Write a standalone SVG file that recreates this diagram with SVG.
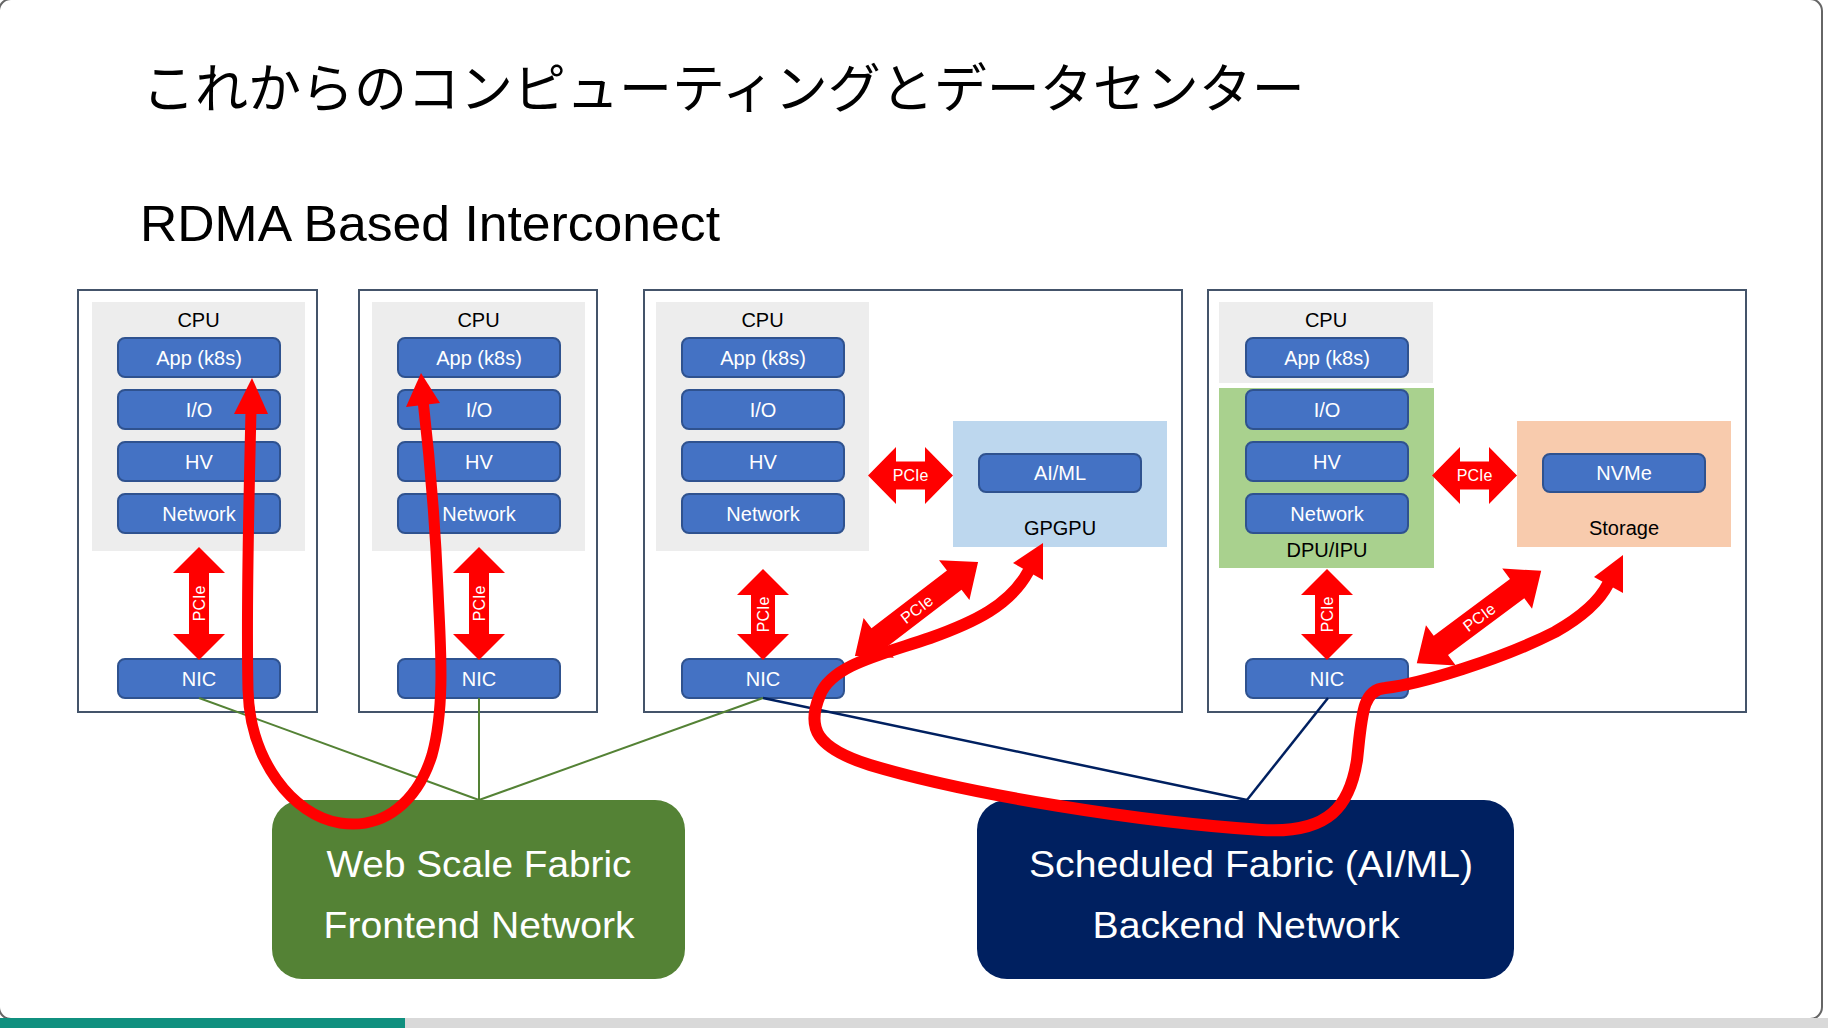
<svg xmlns="http://www.w3.org/2000/svg" xmlns:xlink="http://www.w3.org/1999/xlink" width="1828" height="1028" viewBox="0 0 1828 1028">
<style>
.frame{fill:#fff;stroke:#44546A;stroke-width:2}
.cpu{fill:#EDEDED}
.blk{fill:#4472C4;stroke:#2F528F;stroke-width:2}
.bt{font-family:'Liberation Sans',Arial,sans-serif;font-size:20px;fill:#fff;text-anchor:middle}
.lbl{font-family:'Liberation Sans',Arial,sans-serif;font-size:20px;fill:#000;text-anchor:middle}
.pc{font-family:'Liberation Sans',Arial,sans-serif;font-size:16px;fill:#fff;text-anchor:middle}
.red{fill:#FF0000}
.rl{fill:none;stroke:#FF0000;stroke-linecap:round;stroke-linejoin:round}
.fab{font-family:'Liberation Sans',Arial,sans-serif;font-size:37px;fill:#fff;text-anchor:middle}
</style>
<defs>
<polygon id="vL" points="0,-56.5 26,-30.5 10,-30.5 10,30.5 26,30.5 0,56.5 -26,30.5 -10,30.5 -10,-30.5 -26,-30.5"/>
<polygon id="vS" points="0,-45.5 26,-19.5 12,-19.5 12,19.5 26,19.5 0,45.5 -26,19.5 -12,19.5 -12,-19.5 -26,-19.5"/>
<polygon id="hA" points="-42.5,0 -14.5,-28.5 -14.5,-14 14.5,-14 14.5,-28.5 42.5,0 14.5,28.5 14.5,14 -14.5,14 -14.5,28.5"/>
<polygon id="dA" points="-77.5,0 -47.5,-25 -47.5,-12 47.5,-12 47.5,-25 77.5,0 47.5,25 47.5,12 -47.5,12 -47.5,25"/>
</defs>
<rect x="0" y="0" width="1828" height="1028" fill="#fff"/>
<rect x="-1" y="-1" width="1823" height="1020" rx="12" fill="#fff" stroke="#666" stroke-width="2"/>
<rect x="0" y="1018" width="1828" height="10" fill="#D9D9D9"/>
<rect x="0" y="1018" width="405" height="10" fill="#10907F"/>

<text x="142" y="108" font-family="'Noto Sans CJK JP','Noto Sans CJK SC',sans-serif" font-size="53" fill="#000">これからのコンピューティングとデータセンター</text>
<text x="140" y="241" font-family="'Liberation Sans',Arial,sans-serif" font-size="50" fill="#000" textLength="580" lengthAdjust="spacingAndGlyphs">RDMA Based Interconect</text>

<g id="server1">
<rect class="frame" x="78" y="290" width="239" height="422"/>
<rect class="cpu" x="92" y="302" width="213" height="249"/>
<text class="lbl" x="198.5" y="327">CPU</text>
<rect class="blk" x="118" y="338" width="162" height="39" rx="7"/><text class="bt" x="199" y="365">App (k8s)</text>
<rect class="blk" x="118" y="390" width="162" height="39" rx="7"/><text class="bt" x="199" y="417">I/O</text>
<rect class="blk" x="118" y="442" width="162" height="39" rx="7"/><text class="bt" x="199" y="469">HV</text>
<rect class="blk" x="118" y="494" width="162" height="39" rx="7"/><text class="bt" x="199" y="521">Network</text>
<rect class="blk" x="118" y="659" width="162" height="39" rx="7"/><text class="bt" x="199" y="686">NIC</text>
<use xlink:href="#vL" class="red" x="199" y="603.5"/>
<text class="pc" transform="translate(205,603.5) rotate(-90)">PCIe</text>
</g>

<g id="server2">
<rect class="frame" x="359" y="290" width="238" height="422"/>
<rect class="cpu" x="372" y="302" width="213" height="249"/>
<text class="lbl" x="478.5" y="327">CPU</text>
<rect class="blk" x="398" y="338" width="162" height="39" rx="7"/><text class="bt" x="479" y="365">App (k8s)</text>
<rect class="blk" x="398" y="390" width="162" height="39" rx="7"/><text class="bt" x="479" y="417">I/O</text>
<rect class="blk" x="398" y="442" width="162" height="39" rx="7"/><text class="bt" x="479" y="469">HV</text>
<rect class="blk" x="398" y="494" width="162" height="39" rx="7"/><text class="bt" x="479" y="521">Network</text>
<rect class="blk" x="398" y="659" width="162" height="39" rx="7"/><text class="bt" x="479" y="686">NIC</text>
<use xlink:href="#vL" class="red" x="479" y="603.5"/>
<text class="pc" transform="translate(485,603.5) rotate(-90)">PCIe</text>
</g>

<g id="server3">
<rect class="frame" x="644" y="290" width="538" height="422"/>
<rect class="cpu" x="656" y="302" width="213" height="249"/>
<text class="lbl" x="762.5" y="327">CPU</text>
<rect class="blk" x="682" y="338" width="162" height="39" rx="7"/><text class="bt" x="763" y="365">App (k8s)</text>
<rect class="blk" x="682" y="390" width="162" height="39" rx="7"/><text class="bt" x="763" y="417">I/O</text>
<rect class="blk" x="682" y="442" width="162" height="39" rx="7"/><text class="bt" x="763" y="469">HV</text>
<rect class="blk" x="682" y="494" width="162" height="39" rx="7"/><text class="bt" x="763" y="521">Network</text>
<rect x="953" y="421" width="214" height="126" fill="#BDD7EE"/>
<rect class="blk" x="979" y="454" width="162" height="38" rx="7"/><text class="bt" x="1060" y="480">AI/ML</text>
<text class="lbl" x="1060" y="535">GPGPU</text>
<rect class="blk" x="682" y="659" width="162" height="39" rx="7"/><text class="bt" x="763" y="686">NIC</text>
<use xlink:href="#vS" class="red" x="763" y="614.5"/>
<text class="pc" transform="translate(769,614.5) rotate(-90)">PCIe</text>
<use xlink:href="#hA" class="red" x="910.5" y="475.5"/>
<text class="pc" x="910.5" y="481">PCIe</text>
<g transform="translate(916.5,609) rotate(-37.4)">
<use xlink:href="#dA" class="red"/>
<text class="pc" x="0" y="6">PCIe</text>
</g>
</g>

<g id="server4">
<rect class="frame" x="1208" y="290" width="538" height="422"/>
<rect class="cpu" x="1219" y="302" width="214" height="81"/>
<text class="lbl" x="1326" y="327">CPU</text>
<rect x="1219" y="388" width="215" height="180" fill="#A9D18E"/>
<rect class="blk" x="1246" y="338" width="162" height="39" rx="7"/><text class="bt" x="1327" y="365">App (k8s)</text>
<rect class="blk" x="1246" y="390" width="162" height="39" rx="7"/><text class="bt" x="1327" y="417">I/O</text>
<rect class="blk" x="1246" y="442" width="162" height="39" rx="7"/><text class="bt" x="1327" y="469">HV</text>
<rect class="blk" x="1246" y="494" width="162" height="39" rx="7"/><text class="bt" x="1327" y="521">Network</text>
<text class="lbl" x="1327" y="557">DPU/IPU</text>
<rect x="1517" y="421" width="214" height="126" fill="#F8CBAD"/>
<rect class="blk" x="1543" y="454" width="162" height="38" rx="7"/><text class="bt" x="1624" y="480">NVMe</text>
<text class="lbl" x="1624" y="535">Storage</text>
<rect class="blk" x="1246" y="659" width="162" height="39" rx="7"/><text class="bt" x="1327" y="686">NIC</text>
<use xlink:href="#vS" class="red" x="1327" y="614.5"/>
<text class="pc" transform="translate(1333,614.5) rotate(-90)">PCIe</text>
<use xlink:href="#hA" class="red" x="1474.5" y="475.5"/>
<text class="pc" x="1474.5" y="481">PCIe</text>
<g transform="translate(1479,617) rotate(-36.6)">
<use xlink:href="#dA" class="red"/>
<text class="pc" x="0" y="6">PCIe</text>
</g>
</g>

<g id="frontend">
<rect x="272" y="800" width="413" height="179" rx="30" fill="#548235"/>
<text class="fab" x="479" y="877" textLength="305" lengthAdjust="spacingAndGlyphs">Web Scale Fabric</text>
<text class="fab" x="479" y="938" textLength="311" lengthAdjust="spacingAndGlyphs">Frontend Network</text>
</g>

<g id="backend">
<rect x="977" y="800" width="537" height="179" rx="30" fill="#002060"/>
<text class="fab" x="1251" y="877" textLength="444" lengthAdjust="spacingAndGlyphs">Scheduled Fabric (AI/ML)</text>
<text class="fab" x="1246" y="938" textLength="307" lengthAdjust="spacingAndGlyphs">Backend Network</text>
</g>

<g id="connectors">
<g stroke="#548235" stroke-width="2" fill="none">
<line x1="199" y1="698" x2="479" y2="800"/>
<line x1="479" y1="698" x2="479" y2="800"/>
<line x1="763" y1="698" x2="479" y2="800"/>
</g>
<g stroke="#002060" stroke-width="2.5" fill="none">
<line x1="763" y1="698" x2="1247" y2="800"/>
<line x1="1328" y1="698" x2="1247" y2="800"/>
</g>
<path class="rl" stroke-width="11" d="M 251,410 C 249,500 246,600 248,690 C 250,760 292,815 340,823 C 385,830 418,800 432,755 C 446,705 440,640 438,590 C 435,520 430,460 423,400"/>
<polygon class="red" points="252,378 268,414 234,414"/>
<polygon class="red" points="421,373 440,403 406,407"/>
<path class="rl" stroke-width="12" d="M 1028,572 C 1010,605 975,622 930,638 C 880,655 832,665 820,695 C 806,728 816,748 870,765 C 970,795 1140,822 1262,830 C 1330,834 1350,805 1357,760 C 1362,715 1362,690 1385,688 C 1420,684 1500,660 1555,632 C 1585,615 1600,600 1608,584"/>
<polygon class="red" points="1043,543 1043,580 1013,563"/>
<polygon class="red" points="1623,555 1623,593 1594,577"/>
</g>
</svg>
